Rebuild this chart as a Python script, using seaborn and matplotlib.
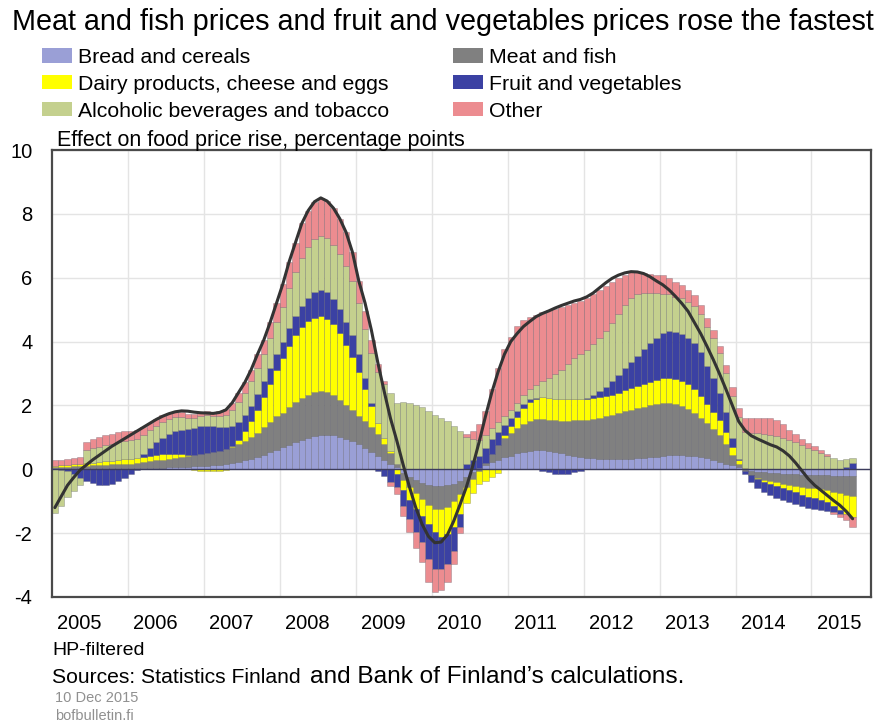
import numpy as np
import pandas as pd
import matplotlib.pyplot as plt
from matplotlib.patches import Patch
import seaborn as sns

# Figure settings
FIG_W, FIG_H, FIG_DPI = 8.77, 7.25, 100
TITLE_FONTSIZE = 20.7
LEGEND_FONTSIZE = 15.3
TICK_FONTSIZE = 14.5
NOTE_FONTSIZE = 14

TITLE = "Meat and fish prices and fruit and vegetables prices rose the fastest"
UNIT_LABEL = "Effect on food price rise, percentage points"
YEARS = [str(y) for y in range(2005, 2016)]
Y_TICKS = [-4, -2, 0, 2, 4, 6, 8, 10]

# Monthly contributions, Jan 2005 - Jul 2015, percentage points
bread = [
    0.03, 0.03, 0.03, 0.03, 0.03, 0.03, 0.03, 0.03, 0.03, 0.03, 0.03, 0.03,
    0.03, 0.03, 0.04, 0.04, 0.05, 0.05, 0.06, 0.06, 0.07, 0.08, 0.09, 0.10,
    0.11, 0.12, 0.14, 0.16, 0.19, 0.23, 0.28, 0.33, 0.39, 0.46, 0.53, 0.61,
    0.69, 0.77, 0.85, 0.92, 0.98, 1.03, 1.07, 1.08, 1.06, 1.02, 0.96, 0.88,
    0.78, 0.66, 0.54, 0.42, 0.30, 0.18, 0.06, -0.12, -0.24, -0.34, -0.42, -0.48,
    -0.51, -0.52, -0.50, -0.45, -0.36, -0.24, -0.10, 0.03, 0.13, 0.22, 0.30, 0.37,
    0.43, 0.50, 0.55, 0.58, 0.59, 0.59, 0.57, 0.54, 0.50, 0.46, 0.42, 0.38,
    0.36, 0.34, 0.33, 0.32, 0.32, 0.32, 0.32, 0.33, 0.34, 0.35, 0.37, 0.39,
    0.42, 0.44, 0.45, 0.45, 0.43, 0.41, 0.38, 0.34, 0.29, 0.24, 0.18, 0.12,
    0.06, 0.00, -0.04, -0.07, -0.09, -0.11, -0.13, -0.14, -0.15, -0.16, -0.17, -0.18,
    -0.18, -0.19, -0.19, -0.20, -0.20, -0.20, -0.20,
]
meat = [
    0.03, 0.04, 0.05, 0.06, 0.07, 0.08, 0.09, 0.10, 0.11, 0.12, 0.13, 0.14,
    0.15, 0.17, 0.19, 0.21, 0.23, 0.25, 0.27, 0.29, 0.31, 0.33, 0.35, 0.38,
    0.40, 0.42, 0.44, 0.47, 0.50, 0.55, 0.61, 0.68, 0.76, 0.85, 0.95, 1.06,
    1.08, 1.17, 1.25, 1.31, 1.36, 1.39, 1.39, 1.34, 1.26, 1.16, 1.06, 0.98,
    0.90, 0.84, 0.78, 0.68, 0.50, 0.32, 0.09, -0.20, -0.30, -0.40, -0.52, -0.65,
    -0.73, -0.73, -0.68, -0.55, -0.42, -0.30, -0.20, -0.05, 0.08, 0.25, 0.45, 0.62,
    0.72, 0.80, 0.88, 0.94, 0.97, 0.98, 0.98, 0.99, 1.02, 1.06, 1.11, 1.15,
    1.19, 1.24, 1.29, 1.34, 1.39, 1.44, 1.49, 1.53, 1.57, 1.61, 1.63, 1.65,
    1.65, 1.63, 1.59, 1.54, 1.46, 1.35, 1.22, 1.10, 0.98, 0.82, 0.62, 0.32,
    0.10, -0.05, -0.13, -0.19, -0.24, -0.26, -0.28, -0.31, -0.34, -0.36, -0.38, -0.40,
    -0.42, -0.44, -0.46, -0.50, -0.55, -0.59, -0.63,
]
dairy = [
    0.05, 0.05, 0.05, 0.06, 0.07, 0.08, 0.09, 0.10, 0.11, 0.12, 0.13, 0.14,
    0.15, 0.16, 0.16, 0.17, 0.17, 0.17, 0.16, 0.14, 0.10, 0.04, -0.02, -0.04,
    -0.05, -0.05, -0.04, -0.02, 0.05, 0.15, 0.30, 0.50, 0.72, 0.95, 1.20, 1.45,
    1.70, 1.93, 2.10, 2.22, 2.30, 2.33, 2.33, 2.30, 2.22, 2.08, 1.88, 1.66,
    1.38, 1.00, 0.65, 0.35, 0.18, 0.08, -0.15, -0.33, -0.42, -0.50, -0.52, -0.58,
    -0.72, -0.88, -0.86, -0.80, -0.62, -0.52, -0.44, -0.42, -0.38, -0.25, -0.12, 0.08,
    0.20, 0.35, 0.50, 0.60, 0.65, 0.68, 0.68, 0.68, 0.68, 0.68, 0.68, 0.67,
    0.66, 0.65, 0.64, 0.63, 0.63, 0.64, 0.66, 0.68, 0.70, 0.72, 0.74, 0.76,
    0.78, 0.80, 0.80, 0.79, 0.77, 0.74, 0.68, 0.60, 0.53, 0.47, 0.38, 0.25,
    0.12, 0.03, -0.02, -0.04, -0.06, -0.08, -0.10, -0.13, -0.16, -0.20, -0.24, -0.28,
    -0.30, -0.33, -0.38, -0.45, -0.52, -0.60, -0.67,
]
fruit = [
    0.00, -0.02, -0.06, -0.15, -0.27, -0.37, -0.44, -0.49, -0.49, -0.45, -0.38, -0.28,
    -0.15, -0.02, 0.10, 0.25, 0.40, 0.52, 0.62, 0.70, 0.76, 0.80, 0.85, 0.88,
    0.86, 0.82, 0.76, 0.70, 0.62, 0.54, 0.50, 0.48, 0.48, 0.50, 0.50, 0.50,
    0.52, 0.55, 0.60, 0.65, 0.72, 0.80, 0.84, 0.84, 0.80, 0.76, 0.72, 0.68,
    0.55, 0.35, 0.12, -0.05, -0.20, -0.40, -0.42, -0.50, -0.60, -0.72, -0.82, -1.10,
    -1.15, -1.00, -0.94, -0.75, -0.40, 0.15, 0.30, 0.40, 0.45, 0.48, 0.42, 0.32,
    0.25, 0.18, 0.12, 0.07, 0.03, -0.05, -0.10, -0.14, -0.15, -0.14, -0.10, -0.05,
    0.03, 0.10, 0.18, 0.30, 0.42, 0.56, 0.70, 0.82, 0.95, 1.08, 1.20, 1.32,
    1.42, 1.46, 1.47, 1.47, 1.46, 1.44, 1.38, 1.20, 1.05, 0.85, 0.60, 0.30,
    0.05, -0.10, -0.20, -0.28, -0.33, -0.36, -0.38, -0.38, -0.38, -0.38, -0.37, -0.36,
    -0.34, -0.32, -0.28, -0.20, -0.12, 0.08, 0.20,
]
alcohol = [
    -1.38, -1.12, -0.82, -0.52, -0.22, 0.42, 0.45, 0.48, 0.50, 0.52, 0.55, 0.57,
    0.58, 0.58, 0.57, 0.55, 0.52, 0.50, 0.47, 0.44, 0.40, 0.36, 0.33, 0.30,
    0.32, 0.32, 0.34, 0.38, 0.50, 0.63, 0.70, 0.76, 0.82, 0.86, 0.92, 1.00,
    1.10, 1.25, 1.38, 1.52, 1.60, 1.65, 1.67, 1.67, 1.70, 1.73, 1.75, 1.70,
    1.60, 1.55, 1.55, 1.60, 1.70, 1.82, 1.94, 2.10, 2.08, 2.02, 1.95, 1.83,
    1.71, 1.62, 1.50, 1.35, 1.20, 0.85, 0.65, 0.50, 0.40, 0.35, 0.30, 0.27,
    0.25, 0.25, 0.28, 0.32, 0.40, 0.50, 0.62, 0.76, 0.92, 1.10, 1.26, 1.41,
    1.50, 1.58, 1.66, 1.74, 1.82, 1.90, 1.97, 2.02, 1.92, 1.76, 1.58, 1.40,
    1.22, 1.15, 1.10, 1.10, 1.12, 1.16, 1.20, 1.23, 1.25, 1.25, 1.25, 1.30,
    1.30, 1.13, 1.13, 1.13, 1.12, 1.08, 1.03, 0.98, 0.92, 0.86, 0.76, 0.66,
    0.60, 0.50, 0.43, 0.35, 0.30, 0.25, 0.14,
]
other = [
    0.18, 0.18, 0.18, 0.20, 0.22, 0.25, 0.28, 0.30, 0.32, 0.33, 0.33, 0.33,
    0.30, 0.28, 0.26, 0.24, 0.22, 0.20, 0.18, 0.16, 0.14, 0.12, 0.11, 0.10,
    0.12, 0.12, 0.14, 0.17, 0.22, 0.30, 0.33, 0.37, 0.43, 0.43, 0.50, 0.58,
    0.71, 0.83, 0.92, 1.08, 1.14, 1.18, 1.20, 1.17, 1.14, 1.10, 1.05, 0.90,
    0.70, 0.55, 0.40, 0.25, 0.10, -0.12, -0.20, -0.30, -0.40, -0.50, -0.62, -0.72,
    -0.73, -0.65, -0.55, -0.42, -0.20, 0.10, 0.25, 0.50, 0.75, 1.20, 1.70, 2.10,
    2.30, 2.40, 2.35, 2.25, 2.20, 2.17, 2.13, 2.05, 1.95, 1.85, 1.75, 1.65,
    1.62, 1.58, 1.52, 1.42, 1.30, 1.12, 0.95, 0.80, 0.70, 0.63, 0.60, 0.58,
    0.58, 0.52, 0.47, 0.42, 0.38, 0.35, 0.30, 0.27, 0.25, 0.24, 0.25, 0.28,
    0.30, 0.45, 0.47, 0.48, 0.50, 0.52, 0.52, 0.45, 0.32, 0.26, 0.20, 0.16,
    0.13, 0.10, 0.05, -0.05, -0.12, -0.20, -0.30,
]
# Food price rise (HP-filtered), %
total = [
    -1.20, -0.85, -0.50, -0.25, -0.02, 0.14, 0.30, 0.44, 0.58, 0.72, 0.84, 0.96,
    1.08, 1.20, 1.32, 1.44, 1.56, 1.66, 1.74, 1.80, 1.83, 1.82, 1.79, 1.77,
    1.76, 1.75, 1.78, 1.86, 2.08, 2.40, 2.72, 3.12, 3.60, 4.05, 4.60, 5.20,
    5.80, 6.50, 7.10, 7.70, 8.10, 8.38, 8.50, 8.40, 8.18, 7.85, 7.42, 6.80,
    5.90, 5.20, 4.35, 3.35, 2.45, 1.60, 0.90, 0.15, -0.55, -1.20, -1.72, -2.10,
    -2.30, -2.28, -2.05, -1.62, -1.10, -0.55, 0.10, 0.85, 1.65, 2.40, 3.05, 3.60,
    4.00, 4.25, 4.47, 4.63, 4.78, 4.88, 4.96, 5.05, 5.13, 5.20, 5.27, 5.32,
    5.40, 5.52, 5.68, 5.84, 5.98, 6.08, 6.15, 6.19, 6.18, 6.13, 6.03, 5.90,
    5.78, 5.62, 5.42, 5.20, 4.95, 4.60, 4.25, 3.85, 3.43, 2.98, 2.50, 2.00,
    1.50, 1.22, 1.05, 0.95, 0.86, 0.77, 0.70, 0.58, 0.42, 0.20, -0.05, -0.30,
    -0.50, -0.66, -0.82, -0.98, -1.13, -1.32, -1.55,
]

SERIES = [
    "Bread and cereals",
    "Meat and fish",
    "Dairy products, cheese and eggs",
    "Fruit and vegetables",
    "Alcoholic beverages and tobacco",
    "Other",
]
COLORS = ["#9a9fd6", "#808080", "#ffff00", "#3b41a3", "#c4d08e", "#ec8c90"]
EDGE = (0.25, 0.25, 0.3, 0.35)


def px(x, y):
    """Figure fraction from pixel position (origin top left)."""
    return x / 877, 1 - y / 725


def main():
    df = pd.DataFrame(dict(zip(SERIES, [bread, meat, dairy, fruit, alcohol, other])))
    df["total"] = total
    n = len(df)
    x = np.arange(n)

    sns.set_theme(style="white")
    plt.rcParams["font.family"] = ["Liberation Sans", "DejaVu Sans"]
    plt.rcParams["text.color"] = "black"

    fig = plt.figure(figsize=(FIG_W, FIG_H), dpi=FIG_DPI)
    x0, y0 = px(51.7, 597)
    x1, y1 = px(871, 150)
    ax = fig.add_axes([x0, y0, x1 - x0, y1 - y0])

    # Stacked bars, positives up from zero and negatives down from zero
    pos_base = np.zeros(n)
    neg_base = np.zeros(n)
    for name, color in zip(SERIES, COLORS):
        v = df[name].to_numpy()
        for part, base in ((np.clip(v, 0, None), pos_base), (np.clip(v, None, 0), neg_base)):
            m = part != 0
            ax.bar(x[m], part[m], bottom=base[m], width=1.0, color=color,
                   edgecolor=EDGE, linewidth=0.5, zorder=2)
            base += part

    ax.axhline(0, color="#3c3c5c", linewidth=1.0, zorder=3)
    sns.lineplot(x=x, y=df["total"].to_numpy(), ax=ax, color="#333333",
                 linewidth=2.2, zorder=4)

    ax.set_xlim(-0.5, 128.9)
    ax.set_ylim(-4, 10)
    ax.set_yticks(Y_TICKS)
    ax.set_yticklabels([str(t) for t in Y_TICKS], fontsize=TICK_FONTSIZE)
    ax.set_xticks([3.9 + 12 * k for k in range(len(YEARS))])
    ax.set_xticklabels(YEARS, fontsize=TICK_FONTSIZE)
    ax.set_xticks([12 * k - 0.5 for k in range(1, 11)], minor=True)
    ax.tick_params(which="both", length=0, colors="black")
    ax.tick_params(axis="x", pad=12)
    ax.tick_params(axis="y", pad=14)
    ax.set_xlabel("")
    ax.set_ylabel("")
    ax.set_axisbelow(True)
    ax.grid(False)
    ax.grid(axis="y", which="major", color="#e4e4e4", linewidth=1.0)
    ax.grid(axis="x", which="minor", color="#e4e4e4", linewidth=1.0)
    for spine in ax.spines.values():
        spine.set_color("#4a4a4a")
        spine.set_linewidth(1.6)

    # Legend, two columns
    order = [0, 2, 4, 1, 3, 5]
    handles = [Patch(facecolor=COLORS[i], edgecolor="none") for i in order]
    fig.legend(handles, [SERIES[i] for i in order], ncol=2, frameon=False,
               loc="upper left", bbox_to_anchor=px(42, 48),
               fontsize=LEGEND_FONTSIZE, borderpad=0, borderaxespad=0,
               handlelength=1.4, handleheight=0.65, handletextpad=0.3,
               columnspacing=3.0, labelspacing=0.37)

    fig.text(*px(12, 30), TITLE, fontsize=TITLE_FONTSIZE, va="baseline")
    fig.text(*px(57, 146), UNIT_LABEL, fontsize=15.5, va="baseline")
    fig.text(*px(52, 655), "HP-filtered", fontsize=NOTE_FONTSIZE, va="baseline")
    fig.text(*px(52, 683), "Sources: Statistics Finland", fontsize=15.2,
             va="baseline")
    fig.text(*px(310, 683), "and Bank of Finland\u2019s calculations.", fontsize=17.6,
             va="baseline")
    fig.text(*px(55, 702), "10 Dec 2015", fontsize=10.5, color="#909090", va="baseline")
    fig.text(*px(55, 720), "bofbulletin.fi", fontsize=10.5, color="#909090", va="baseline")

    fig.savefig("out.png", dpi=FIG_DPI)
    plt.close(fig)


if __name__ == "__main__":
    main()
